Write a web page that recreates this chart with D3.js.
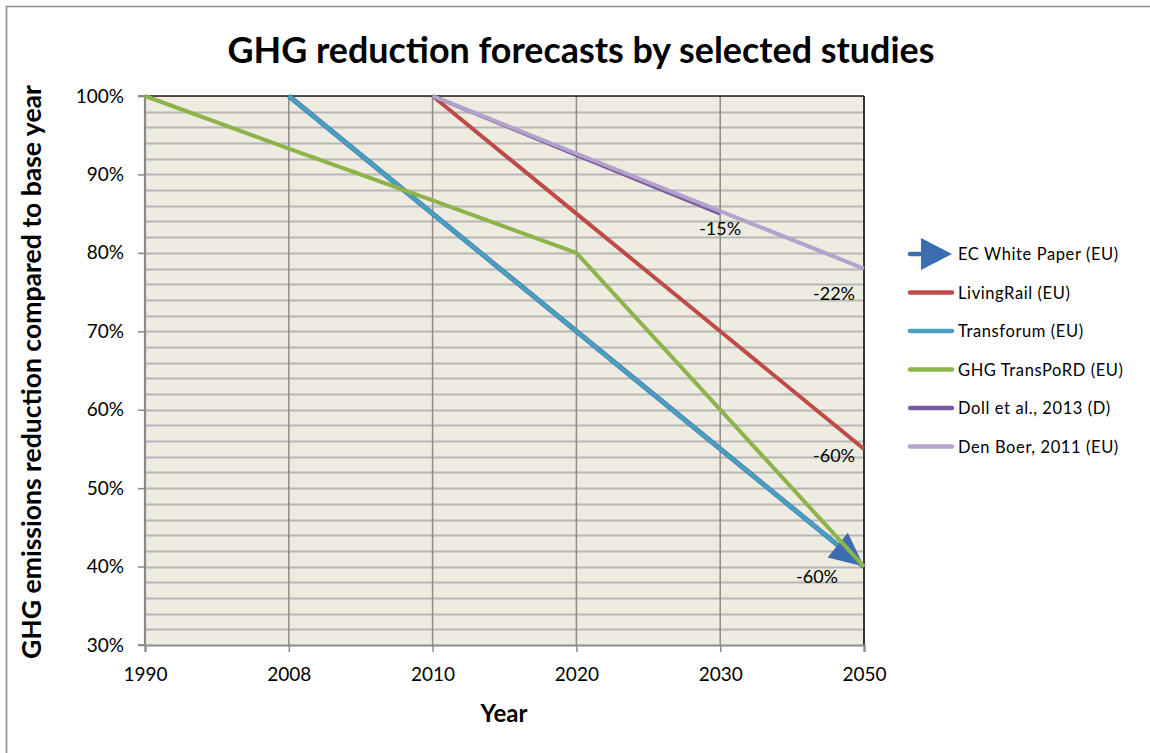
<!DOCTYPE html>
<html><head><meta charset="utf-8">
<script src="https://cdn.jsdelivr.net/npm/d3@7"></script>
<style>body{margin:0;background:#fff}svg{display:block}text{font-family:Lato,"Open Sans",sans-serif}</style>
</head><body><svg id="c" width="1150" height="753"></svg>
<script>
const years = ["1990","2008","2010","2020","2030","2050"];
const yTicks = [0.3,0.4,0.5,0.6,0.7,0.8,0.9,1.0];
const seriesNames = ["EC White Paper (EU)","LivingRail (EU)","Transforum (EU)","GHG TransPoRD (EU)","Doll et al., 2013 (D)","Den Boer, 2011 (EU)"];
const ecWhitePaper = [null,1.00,null,null,null,0.40];
const livingRail   = [null,null,1.00,0.85,0.70,0.55];
const transforum   = [null,1.00,0.85,0.70,0.55,0.40];
const ghgTransPoRD = [1.00,0.933,0.867,0.80,0.60,0.40];
const dollEtAl     = [null,null,1.00,0.925,0.85,null];
const denBoer      = [null,null,1.00,0.9267,0.8533,0.78];
const seriesValues = [ecWhitePaper,livingRail,transforum,ghgTransPoRD,dollEtAl,denBoer];
const seriesColors = ["#3B6DB0","#BE4B48","#4A9FBE","#8DB34A","#7A5B9E","#B3A2CB"];
const drawOrder = [1,0,2,3,4,5];
const dataLabels = [
  {series:4, year:"2030", text:"-15%"},
  {series:5, year:"2050", text:"-22%"},
  {series:1, year:"2050", text:"-60%"},
  {series:0, year:"2050", text:"-60%"}
];
const labelOffsets = [[0,9],[-30,19],[-30,1],[-47,4]];

const svg = d3.select("#c");
const L=145,R=864,T=96,B=645;
const x = d3.scalePoint().domain(years).range([L,R]);
const y = d3.scaleLinear().domain([0.3,1.0]).range([B,T]);

svg.append("path").attr("d","M6.5,760V6.5H1160").attr("fill","none").attr("stroke","#8c8c8c").attr("stroke-width",1.6);

const title = svg.append("text").attr("x",581).attr("y",63).attr("text-anchor","middle")
  .attr("font-weight","bold").attr("font-size",31).attr("fill","#000")
  .text("GHG reduction forecasts by selected studies");
{const w=title.node().getComputedTextLength(); title.attr("font-size",31*707/w);}

svg.append("rect").attr("x",L).attr("y",T).attr("width",R-L).attr("height",B-T).attr("fill","#EEECE1");

const minor = d3.range(0.32,1.0,0.02);
svg.append("g").selectAll("line").data(minor).join("line")
  .attr("x1",L).attr("x2",R).attr("y1",d=>Math.round(y(d))+0.5).attr("y2",d=>Math.round(y(d))+0.5)
  .attr("stroke","#B5B5B5").attr("stroke-width",1.8);
svg.append("g").selectAll("line").data(years.slice(1)).join("line")
  .attr("x1",d=>x(d)).attr("x2",d=>x(d)).attr("y1",T).attr("y2",B)
  .attr("stroke","#8C8C8C").attr("stroke-width",1.5);

svg.append("line").attr("x1",L).attr("x2",R).attr("y1",T).attr("y2",T).attr("stroke","#111").attr("stroke-width",1.5);
svg.append("line").attr("x1",R).attr("x2",R).attr("y1",T).attr("y2",B).attr("stroke","#111").attr("stroke-width",1.5);

const yAxis = d3.axisLeft(y).tickValues(yTicks).tickFormat(d3.format(".0%")).tickSize(7).tickPadding(14);
const gy = svg.append("g").attr("transform",`translate(${L},0)`).call(yAxis);
const xAxis = d3.axisBottom(x).tickSize(7).tickPadding(16);
const gx = svg.append("g").attr("transform",`translate(0,${B})`).call(xAxis);
[gy,gx].forEach(g=>{
  g.attr("font-size",19).attr("font-family","Lato");
  g.select(".domain").attr("stroke","#8A8A8A").attr("stroke-width",2.2);
  g.selectAll(".tick line").attr("stroke","#8A8A8A").attr("stroke-width",1.5);
  g.selectAll(".tick text").attr("fill","#000");
});
gy.select(".domain").attr("d",`M-7,${T}H0V${B}H-7`);

svg.append("text").attr("x",504).attr("y",722).attr("text-anchor","middle")
  .attr("font-weight","bold").attr("font-size",24).text("Year");
const yt = svg.append("text").attr("transform","translate(41,372) rotate(-90)").attr("text-anchor","middle")
  .attr("font-weight","bold").attr("font-size",20).text("GHG emissions reduction compared to base year");
{const w=yt.node().getComputedTextLength(); yt.attr("font-size",20*574/w);}

const line = d3.line().defined(d=>d.v!=null).x(d=>x(d.k)).y(d=>y(d.v));

function drawArrowHead(){
  const vals = seriesValues[0];
  const pts = years.map((k,j)=>({k,v:vals[j]})).filter(d=>d.v!=null);
  const a = pts[pts.length-2], b = pts[pts.length-1];
  const x1=x(a.k),y1=y(a.v),x2=x(b.k),y2=y(b.v);
  const ang = Math.atan2(y2-y1,x2-x1);
  const len=34, hw=16;
  const bx = x2-len*Math.cos(ang), by = y2-len*Math.sin(ang);
  const px = -Math.sin(ang)*hw, py = Math.cos(ang)*hw;
  svg.append("path").attr("d",`M${x2},${y2}L${bx+px},${by+py}L${bx-px},${by-py}Z`).attr("fill",seriesColors[0]);
}

drawOrder.forEach(i=>{
  const vals = seriesValues[i];
  const pts = years.map((k,j)=>({k,v:vals[j]})).filter(d=>d.v!=null);
  svg.append("path").datum(pts).attr("d",line).attr("fill","none")
    .attr("stroke",seriesColors[i]).attr("stroke-width",i===0?5:4).attr("stroke-linejoin","round");
  if(i===2) drawArrowHead();
});

dataLabels.forEach((d,i)=>{
  const v = seriesValues[d.series][years.indexOf(d.year)];
  svg.append("text").attr("x",x(d.year)+labelOffsets[i][0]).attr("y",y(v)+labelOffsets[i][1]+12)
    .attr("text-anchor","middle").attr("font-size",18).text(d.text);
});

const lg = svg.append("g");
seriesNames.forEach((n,i)=>{
  const ly = 254 + i*38.5;
  if(i===0){
    lg.append("line").attr("x1",910).attr("x2",930).attr("y1",ly).attr("y2",ly)
      .attr("stroke",seriesColors[0]).attr("stroke-width",4.5).attr("stroke-linecap","round");
    lg.append("path").attr("d",`M921,${ly-16}L952,${ly}L921,${ly+16}Z`).attr("fill",seriesColors[0]);
  } else {
    lg.append("line").attr("x1",910).attr("x2",952).attr("y1",ly).attr("y2",ly)
      .attr("stroke",seriesColors[i]).attr("stroke-width",4.5).attr("stroke-linecap","round");
  }
  lg.append("text").attr("x",958).attr("y",ly+6).attr("font-size",16.5).attr("letter-spacing",0.6).text(n);
});
</script></body></html>
